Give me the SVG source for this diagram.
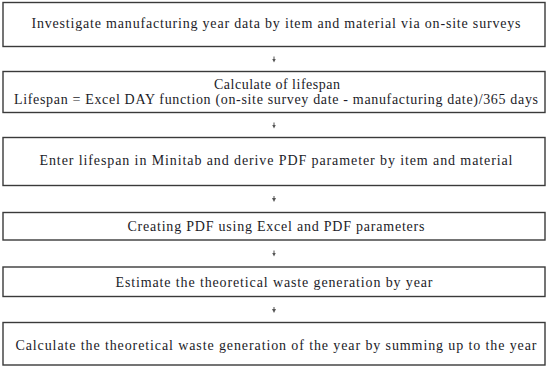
<svg xmlns="http://www.w3.org/2000/svg" width="550" height="370" viewBox="0 0 550 370">
<style>
.box{fill:#fff;stroke:#3a3a3a;stroke-width:1.4}
.t{font-family:'Liberation Serif','DejaVu Serif',serif;font-size:14px;fill:#1c1c28;text-anchor:middle}
.arr{stroke:#555;stroke-width:1;fill:none}
</style>
<defs>
<marker id="ah" viewBox="0 0 6 6" refX="3" refY="3" markerWidth="4" markerHeight="4" orient="auto">
<path d="M0,0 L6,3 L0,6 z" fill="#555"/>
</marker>
</defs>
<rect width="550" height="370" fill="#fff"/>
<g id="n1">
<rect class="box" x="3" y="2.5" width="542" height="44"/>
<text class="t" x="276" y="28" textLength="489" lengthAdjust="spacing">Investigate manufacturing year data by item and material via on-site surveys</text>
</g>
<g id="n2">
<rect class="box" x="3" y="71.5" width="542" height="41"/>
<text class="t" x="277" y="89" textLength="126" lengthAdjust="spacing">Calculate of lifespan</text>
<text class="t" x="276" y="104" textLength="524" lengthAdjust="spacing">Lifespan = Excel DAY function (on-site survey date - manufacturing date)/365 days</text>
</g>
<g id="n3">
<rect class="box" x="3" y="137.5" width="542" height="48"/>
<text class="t" x="276" y="165" textLength="473" lengthAdjust="spacing">Enter lifespan in Minitab and derive PDF parameter by item and material</text>
</g>
<g id="n4">
<rect class="box" x="3" y="212.5" width="542" height="27.5"/>
<text class="t" x="276" y="230.5" textLength="297" lengthAdjust="spacing">Creating PDF using Excel and PDF parameters</text>
</g>
<g id="n5">
<rect class="box" x="3" y="267" width="542" height="29.5"/>
<text class="t" x="274" y="286.5" textLength="317" lengthAdjust="spacing">Estimate the theoretical waste generation by year</text>
</g>
<g id="n6">
<rect class="box" x="3" y="322.5" width="542" height="42.5"/>
<text class="t" x="276" y="350" textLength="521" lengthAdjust="spacing">Calculate the theoretical waste generation of the year by summing up to the year</text>
</g>
<g id="connectors">
<line class="arr" x1="274" y1="56.5" x2="274" y2="60.5" marker-end="url(#ah)"/>
<line class="arr" x1="274" y1="122.5" x2="274" y2="126.5" marker-end="url(#ah)"/>
<line class="arr" x1="274" y1="196" x2="274" y2="200" marker-end="url(#ah)"/>
<line class="arr" x1="274" y1="250.5" x2="274" y2="254.5" marker-end="url(#ah)"/>
<line class="arr" x1="274" y1="307" x2="274" y2="311" marker-end="url(#ah)"/>
</g>
</svg>
